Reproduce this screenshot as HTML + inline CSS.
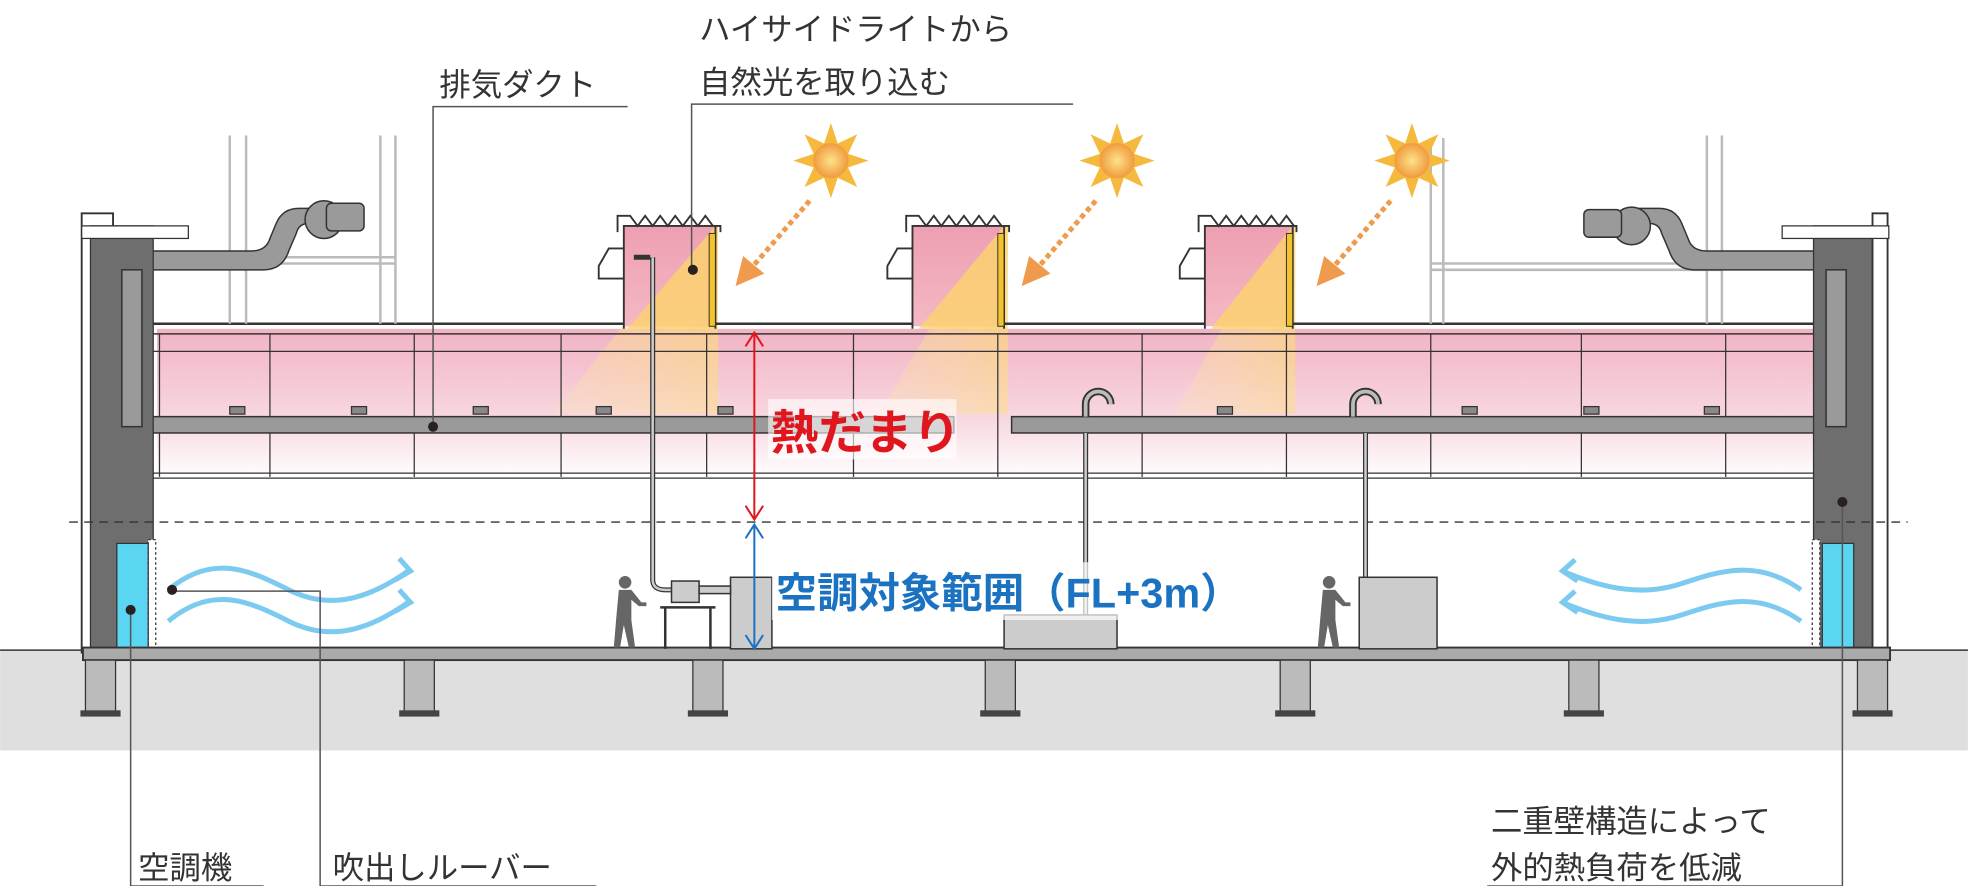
<!DOCTYPE html>
<html><head><meta charset="utf-8"><style>
html,body{margin:0;padding:0;background:#fff}
svg{display:block}
text{font-family:"Liberation Sans","Noto Sans CJK JP",sans-serif}
</style></head><body>
<svg width="1968" height="886" viewBox="0 0 1568 706" xmlns="http://www.w3.org/2000/svg">
<defs>
<linearGradient id="pk" x1="0" y1="0" x2="0" y2="1">
<stop offset="0" stop-color="#f1b3c3"/><stop offset="0.6" stop-color="#f8d8e0"/><stop offset="1" stop-color="#fff"/></linearGradient>
<linearGradient id="cl" x1="0" y1="0" x2="0" y2="1">
<stop offset="0" stop-color="#ee9fb2"/><stop offset="1" stop-color="#f4b8c4"/></linearGradient>
<radialGradient id="sun"><stop offset="0" stop-color="#fde28a"/><stop offset="1" stop-color="#f19a3e"/></radialGradient>
<linearGradient id="beam" x1="1" y1="0" x2="0" y2="1"><stop offset="0" stop-color="#fbd36a" stop-opacity="0.9"/><stop offset="1" stop-color="#fde6b0" stop-opacity="0.2"/></linearGradient>
</defs>
<!-- ground -->
<rect x="0" y="518" width="1568" height="80" fill="#dfdfdf"/>
<line x1="0" y1="518" x2="66" y2="518" stroke="#333" stroke-width="1.2"/>
<line x1="1505" y1="518" x2="1568" y2="518" stroke="#333" stroke-width="1.2"/>
<!-- ceiling heat zone -->
<rect x="125" y="262" width="1320" height="120" fill="url(#pk)"/>
<!-- light beams -->
<g fill="url(#beam)">
<polygon points="560,180 572,180 572,330 440,330"/>
<polygon points="790,180 803,180 803,330 700,330"/>
<polygon points="1020,180 1032,180 1032,330 935,330"/>
</g>
<!-- roof lines -->
<g stroke="#333" fill="none">
<line x1="120" y1="258" x2="1445" y2="258" stroke-width="2"/>
<line x1="75" y1="266" x2="1495" y2="266" stroke-width="1.2"/>
<line x1="120" y1="280" x2="1445" y2="280" stroke-width="1"/>
<line x1="88" y1="377" x2="1445" y2="377" stroke-width="1"/>
<line x1="88" y1="381" x2="1445" y2="381" stroke-width="1"/>
</g>
<g stroke="#333" stroke-width="1">
<line x1="215" y1="266" x2="215" y2="380"/><line x1="330" y1="266" x2="330" y2="380"/>
<line x1="447" y1="266" x2="447" y2="380"/><line x1="563" y1="266" x2="563" y2="380"/>
<line x1="680" y1="266" x2="680" y2="380"/><line x1="795" y1="266" x2="795" y2="380"/>
<line x1="910" y1="266" x2="910" y2="380"/><line x1="1025" y1="266" x2="1025" y2="380"/>
<line x1="1140" y1="266" x2="1140" y2="380"/><line x1="1260" y1="266" x2="1260" y2="380"/>
<line x1="1375" y1="266" x2="1375" y2="380"/><line x1="127" y1="266" x2="127" y2="380"/>
</g>
<!-- clerestories -->
<g>
<rect x="497" y="180" width="73" height="80" fill="url(#cl)"/>
<rect x="727" y="180" width="73" height="80" fill="url(#cl)"/>
<rect x="960" y="180" width="70" height="80" fill="url(#cl)"/>
<polygon points="570,180 570,262 500,262" fill="#fbd36a" opacity="0.8"/>
<polygon points="800,180 800,262 732,262" fill="#fbd36a" opacity="0.8"/>
<polygon points="1030,180 1030,262 965,262" fill="#fbd36a" opacity="0.8"/>
</g>
<g stroke="#333" stroke-width="1.5" fill="none">
<path d="M497,262 V180 H570 V262"/><path d="M727,262 V180 H800 V262"/><path d="M960,262 V180 H1030 V262"/>
<path d="M492,185 V172 h10 l6,8 6,-8 6,8 6,-8 6,8 6,-8 6,8 6,-8 6,8 6,-8 6,8 h6 V185"/>
<path d="M722,185 V172 h10 l6,8 6,-8 6,8 6,-8 6,8 6,-8 6,8 6,-8 6,8 6,-8 6,8 h6 V185"/>
<path d="M955,185 V172 h10 l6,8 6,-8 6,8 6,-8 6,8 6,-8 6,8 6,-8 6,8 6,-8 6,8 h2 V185"/>
<path d="M497,198 h-12 l-8,14 v10 h20"/><path d="M727,198 h-12 l-8,14 v10 h20"/><path d="M960,198 h-12 l-8,14 v10 h20"/>
</g>
<rect x="565" y="186" width="5" height="74" fill="#f4c22c" stroke="#333" stroke-width="0.8"/>
<rect x="795" y="186" width="5" height="74" fill="#f4c22c" stroke="#333" stroke-width="0.8"/>
<rect x="1025" y="186" width="5" height="74" fill="#f4c22c" stroke="#333" stroke-width="0.8"/>
<!-- rooftop frames -->
<g stroke="#bbb" stroke-width="2" fill="none">
<path d="M183,108 V258 M196,108 V258 M315,108 V258 M303,108 V258 M183,205 H315 M183,210 H315"/>
<path d="M1140,110 V258 M1150,110 V258 M1360,108 V258 M1372,108 V258 M1140,210 H1372 M1140,215 H1372"/>
</g>
<!-- exhaust ducts -->
<g fill="#9a9a9a" stroke="#333" stroke-width="1.2">
<rect x="120" y="332" width="640" height="13"/>
<rect x="806" y="332" width="640" height="13"/>
<path d="M97,340 V215 q0,-15 15,-15 H200 q12,0 15,-10 l5,-12 q5,-12 18,-12 h18 v12 h-10 q-8,0 -10,8 l-6,14 q-5,15 -20,15 H120 q-7,0 -7,7 V340 Z"/>
<path d="M1470,340 V215 q0,-15 -15,-15 H1360 q-12,0 -15,-10 l-5,-12 q-5,-12 -18,-12 h-18 v12 h10 q8,0 10,8 l6,14 q5,15 20,15 H1448 q7,0 7,7 V340 Z"/>
<circle cx="258" cy="175" r="15"/><rect x="260" y="162" width="30" height="22" rx="4"/>
<circle cx="1300" cy="180" r="15"/><rect x="1262" y="167" width="30" height="22" rx="4"/>
</g>
<g fill="#888" stroke="#333" stroke-width="1">
<rect x="183" y="324" width="12" height="6"/><rect x="280" y="324" width="12" height="6"/><rect x="377" y="324" width="12" height="6"/><rect x="475" y="324" width="12" height="6"/><rect x="572" y="324" width="12" height="6"/>
<rect x="970" y="324" width="12" height="6"/><rect x="1165" y="324" width="12" height="6"/><rect x="1262" y="324" width="12" height="6"/><rect x="1358" y="324" width="12" height="6"/>
</g>
<g fill="none" stroke="#333" stroke-width="6"><path d="M865,332 V322 a10,10 0 0 1 20,0"/><path d="M1078,332 V322 a10,10 0 0 1 20,0"/></g>
<g fill="none" stroke="#bbb" stroke-width="3"><path d="M865,332 V322 a10,10 0 0 1 20,0"/><path d="M1078,332 V322 a10,10 0 0 1 20,0"/></g>
<!-- walls -->
<rect x="65" y="170" width="25" height="350" fill="#fff" stroke="#333" stroke-width="1.5"/>
<rect x="72" y="180" width="50" height="340" fill="#6e6e6e" stroke="#333"/>
<rect x="65" y="180" width="85" height="10" fill="#fff" stroke="#333"/>
<rect x="1445" y="180" width="50" height="340" fill="#6e6e6e" stroke="#333"/>
<rect x="1492" y="170" width="12" height="350" fill="#fff" stroke="#333" stroke-width="1.5"/>
<rect x="1420" y="180" width="85" height="10" fill="#fff" stroke="#333"/>
<g fill="#9a9a9a" stroke="#333" stroke-width="1.2">
<rect x="97" y="215" width="16" height="125"/><rect x="1455" y="215" width="16" height="125"/>
</g>
<!-- louvers & AC units -->
<rect x="118" y="430" width="6" height="88" fill="#fff" stroke="#333" stroke-dasharray="2 2"/>
<rect x="1444" y="430" width="6" height="88" fill="#fff" stroke="#333" stroke-dasharray="2 2"/>
<rect x="93" y="433" width="25" height="83" fill="#5bd6f2" stroke="#333"/>
<rect x="1452" y="433" width="25" height="83" fill="#5bd6f2" stroke="#333"/>
<!-- floor -->
<rect x="66" y="516" width="1440" height="10" fill="#aaa" stroke="#333" stroke-width="1.5"/>
<g fill="#bbb" stroke="#333" stroke-width="1">
<rect x="68" y="526" width="24" height="42"/><rect x="322" y="526" width="24" height="42"/><rect x="552" y="526" width="24" height="42"/>
<rect x="785" y="526" width="24" height="42"/><rect x="1020" y="526" width="24" height="42"/><rect x="1250" y="526" width="24" height="42"/><rect x="1480" y="526" width="24" height="42"/>
</g>
<g fill="#444"><rect x="64" y="566" width="32" height="5"/><rect x="318" y="566" width="32" height="5"/><rect x="548" y="566" width="32" height="5"/><rect x="781" y="566" width="32" height="5"/><rect x="1016" y="566" width="32" height="5"/><rect x="1246" y="566" width="32" height="5"/><rect x="1476" y="566" width="32" height="5"/></g>
<!-- dashed line -->
<line x1="55" y1="416" x2="1520" y2="416" stroke="#333" stroke-width="1" stroke-dasharray="7 5"/>
<!-- equipment -->
<g fill="none" stroke="#333" stroke-width="4"><path d="M518,205 H505 M520,205 V462 q0,8 10,8 H540"/><path d="M865,345 V490"/><path d="M1088,345 V460"/></g>
<g fill="none" stroke="#ccc" stroke-width="2"><path d="M520,205 V462 q0,8 10,8 H540"/><path d="M865,345 V490"/><path d="M1088,345 V460"/></g>
<g fill="#ccc" stroke="#333" stroke-width="1.2">
<rect x="582" y="460" width="33" height="57"/><rect x="800" y="490" width="90" height="27"/><rect x="1083" y="460" width="62" height="57"/>
<rect x="535" y="463" width="22" height="17"/><rect x="557" y="467" width="25" height="6"/>
</g>
<g stroke="#333" stroke-width="2" fill="none"><path d="M526,484 H570 M530,484 V517 M566,484 V517"/></g>
<g fill="#666">
<circle cx="498" cy="464" r="5"/><path d="M493,470 h10 l8,10 h4 v3 h-6 l-6,-5 v16 l3,22 h-5 l-4,-18 -3,18 h-5 l2,-24 z"/>
<circle cx="1059" cy="464" r="5"/><path d="M1054,470 h10 l8,10 h4 v3 h-6 l-6,-5 v16 l3,22 h-5 l-4,-18 -3,18 h-5 l2,-24 z"/>
</g>
<!-- suns -->
<g>
<g transform="translate(662,128)"><g fill="#f5b93e"><polygon points="0,-30 6,-12 -6,-12"/><polygon points="0,30 6,12 -6,12"/><polygon points="-30,0 -12,6 -12,-6"/><polygon points="30,0 12,6 12,-6"/><polygon points="-21,-21 -4,-13 -13,-4"/><polygon points="21,21 4,13 13,4"/><polygon points="21,-21 4,-13 13,-4"/><polygon points="-21,21 -4,13 -13,4"/></g><circle r="14" fill="url(#sun)"/></g>
<g transform="translate(890,128)"><g fill="#f5b93e"><polygon points="0,-30 6,-12 -6,-12"/><polygon points="0,30 6,12 -6,12"/><polygon points="-30,0 -12,6 -12,-6"/><polygon points="30,0 12,6 12,-6"/><polygon points="-21,-21 -4,-13 -13,-4"/><polygon points="21,21 4,13 13,4"/><polygon points="21,-21 4,-13 13,-4"/><polygon points="-21,21 -4,13 -13,4"/></g><circle r="14" fill="url(#sun)"/></g>
<g transform="translate(1125,128)"><g fill="#f5b93e"><polygon points="0,-30 6,-12 -6,-12"/><polygon points="0,30 6,12 -6,12"/><polygon points="-30,0 -12,6 -12,-6"/><polygon points="30,0 12,6 12,-6"/><polygon points="-21,-21 -4,-13 -13,-4"/><polygon points="21,21 4,13 13,4"/><polygon points="21,-21 4,-13 13,-4"/><polygon points="-21,21 -4,13 -13,4"/></g><circle r="14" fill="url(#sun)"/></g>
</g>
<g stroke="#ef9a4c" stroke-width="4" stroke-dasharray="4 3" fill="none">
<line x1="645" y1="160" x2="600" y2="212"/><line x1="873" y1="160" x2="828" y2="212"/><line x1="1108" y1="160" x2="1063" y2="212"/>
</g>
<g fill="#ef9a4c"><polygon points="586,228 592,204 609,218"/><polygon points="814,228 820,204 837,218"/><polygon points="1049,228 1055,204 1072,218"/></g>
<!-- blue wave arrows -->
<g fill="none" stroke="#7ccaf0" stroke-width="4">
<path d="M134,470 C170,440 200,455 230,470 S290,480 325,455"/>
<path d="M134,495 C170,465 200,480 230,495 S290,505 325,480"/>
<path d="M1435,470 C1400,445 1370,455 1340,465 S1280,470 1245,455"/>
<path d="M1435,495 C1400,470 1370,480 1340,490 S1280,495 1245,480"/>
</g>
<g fill="none" stroke="#7ccaf0" stroke-width="4"><path d="M318,445 L327,455 L315,462"/><path d="M318,470 L327,480 L315,487"/><path d="M1255,446 L1245,455 L1257,463"/><path d="M1255,471 L1245,480 L1257,488"/></g>
<!-- dimension arrows -->
<g stroke="#e0161e" stroke-width="1.6" fill="none"><line x1="601" y1="265" x2="601" y2="414"/><path d="M594,276 L601,265 L608,276 M594,403 L601,414 L608,403"/></g>
<g stroke="#1a72c0" stroke-width="1.6" fill="none"><line x1="601" y1="418" x2="601" y2="517"/><path d="M594,429 L601,418 L608,429 M594,506 L601,517 L608,506"/></g>
<rect x="612" y="318" width="150" height="48" fill="#fff" opacity="0.6"/>
<text x="614" y="358" font-size="38" font-weight="bold" fill="#e0161e">熱だまり</text>
<rect x="615" y="448" width="400" height="46" fill="#fff" opacity="0.7"/>
<text x="618" y="484" font-size="33" font-weight="bold" fill="#1a72c0">空調対象範囲（FL+3m）</text>
<!-- labels & leaders -->
<g font-size="25" fill="#333">
<text x="557" y="32">ハイサイドライトから</text>
<text x="557" y="74">自然光を取り込む</text>
<text x="350" y="76">排気ダクト</text>
<text x="110" y="700">空調機</text>
<text x="265" y="700">吹出しルーバー</text>
<text x="1188" y="663">二重壁構造によって</text>
<text x="1188" y="700">外的熱負荷を低減</text>
</g>
<g stroke="#555" stroke-width="1.2" fill="none">
<path d="M855,83 H551 V212"/><path d="M500,85 H345 V340"/>
<path d="M210,706 H104 V486"/><path d="M475,706 H255 V471 H137"/>
<path d="M1185,706 H1468 V400"/>
</g>
<g fill="#2a2020"><circle cx="552" cy="215" r="4"/><circle cx="345" cy="340" r="4"/><circle cx="104" cy="486" r="4"/><circle cx="137" cy="470" r="4"/><circle cx="1468" cy="400" r="4"/></g>
</svg>
</body></html>
